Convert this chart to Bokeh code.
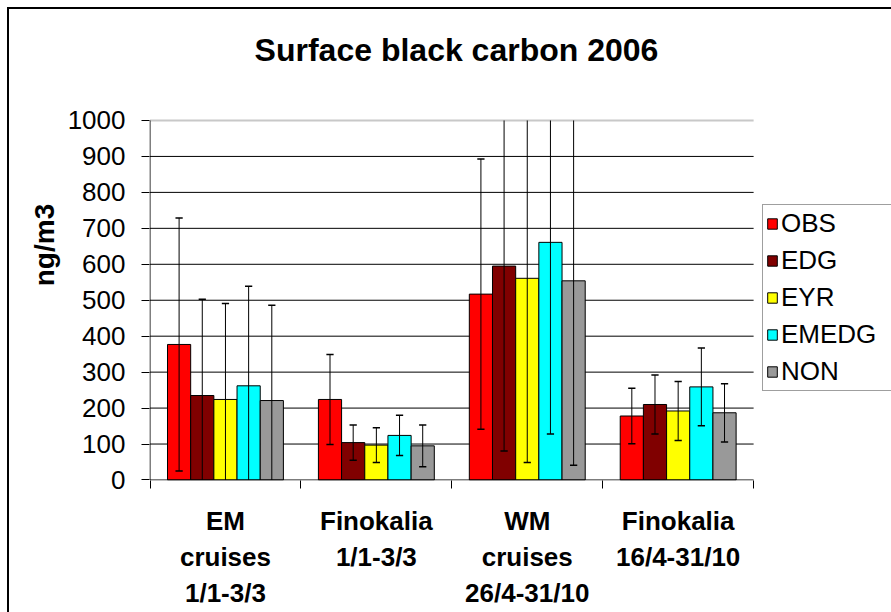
from bokeh.plotting import figure
from bokeh.models import (Range1d, FixedTicker, Legend, LegendItem, Label,
                          ColumnDataSource)
from bokeh.embed import file_html
from bokeh.resources import INLINE

# ---------------- data ----------------
categories = ["EM\ncruises\n1/1-3/3", "Finokalia\n1/1-3/3",
              "WM\ncruises\n26/4-31/10", "Finokalia\n16/4-31/10"]
series = ["OBS", "EDG", "EYR", "EMEDG", "NON"]
colors = ["#FF0000", "#800000", "#FFFF00", "#00FFFF", "#999999"]

OBS = [377, 224, 517, 178]
EDG = [235, 104, 595, 210]
EYR = [224, 97, 561, 192]
EMEDG = [262, 124, 661, 259]
NON = [221, 95, 554, 187]

OBS_err = [352, 125, 376, 77]
EDG_err = [268, 49, 514, 82]
EYR_err = [267, 48, 512, 82]
EMEDG_err = [277, 56, 533, 108]
NON_err = [265, 58, 513, 81]

y_ticks = [0, 100, 200, 300, 400, 500, 600, 700, 800, 900, 1000]
title_text = "Surface black carbon 2006"
y_label = "ng/m3"

values = [OBS, EDG, EYR, EMEDG, NON]
errors = [OBS_err, EDG_err, EYR_err, EMEDG_err, NON_err]

# ---------------- layout ----------------
FONT = "Liberation Sans"
OFF = 9                                  # outer chart border offset (incl. 2px border)
BORDER = 2
W, H = 891 - OFF + BORDER, 612 - OFF + BORDER   # host box includes the border
PLOT_L, PLOT_R, PLOT_T, PLOT_B = 149, 751, 120, 478   # plot area (page px)
ncat = len(categories)
ymin, ymax = y_ticks[0], y_ticks[-1]
px_x = (PLOT_R - PLOT_L) / ncat          # px per category
px_y = (PLOT_B - PLOT_T) / ymax          # px per unit
x0 = -0.5 / px_x
y0 = -0.5 / px_y
x_end = x0 + (891 - PLOT_L) / px_x
y_end = y0 + (PLOT_B - OFF) / px_y
NAN = float("nan")

p = figure(width=W, height=H, output_backend="svg", toolbar_location=None,
           x_range=Range1d(x0, x_end), y_range=Range1d(y0, y_end),
           min_border_left=PLOT_L - OFF, min_border_right=0, min_border_top=0,
           min_border_bottom=612 - PLOT_B, background_fill_color="white",
           border_fill_color="white")
p.margin = (OFF - BORDER, 0, 0, OFF - BORDER)
p.styles = {"border-top": "2px solid #000000", "border-left": "2px solid #000000"}
p.outline_line_color = None
p.xgrid.grid_line_color = None
p.ygrid.grid_line_color = None

# gridlines limited to the plot area
grid_src = ColumnDataSource(dict(y=y_ticks[1:-1],
                                 xa=[0] * (len(y_ticks) - 2),
                                 xb=[ncat] * (len(y_ticks) - 2)))
p.segment(x0="xa", y0="y", x1="xb", y1="y", source=grid_src,
          line_color="#000000", line_width=1)
p.segment(x0=[0], y0=[ymax], x1=[ncat], y1=[ymax], line_color="#c8c8c8",
          line_width=2)

# y axis
p.yaxis.ticker = FixedTicker(ticks=y_ticks)
p.yaxis.minor_tick_line_color = None
p.yaxis.major_tick_in = 0
p.yaxis.major_tick_out = 8
p.yaxis.major_tick_line_color = "#000000"
p.yaxis.axis_line_color = None
p.yaxis.major_label_text_font = FONT
p.yaxis.major_label_text_font_size = "26px"
p.yaxis.major_label_text_color = "#000000"
p.yaxis.major_label_standoff = 16
p.yaxis.axis_label = y_label
p.yaxis.axis_label_text_font = FONT
p.yaxis.axis_label_text_font_size = "28px"
p.yaxis.axis_label_text_font_style = "bold"
p.yaxis.axis_label_text_color = "#000000"
p.yaxis.axis_label_standoff = 5

# x axis: labels at group centres, minor ticks at group boundaries
centers = [k + 0.5 for k in range(ncat)]
p.xaxis.ticker = FixedTicker(ticks=centers, minor_ticks=list(range(ncat + 1)))
p.xaxis.major_label_overrides = {c: lab for c, lab in zip(centers, categories)}
p.xaxis.major_tick_line_color = None
p.xaxis.major_tick_in = 0
p.xaxis.major_tick_out = 0
p.xaxis.minor_tick_line_color = "#000000"
p.xaxis.minor_tick_in = 0
p.xaxis.minor_tick_out = 8
p.xaxis.axis_line_color = None
p.xaxis.major_label_text_font = FONT
p.xaxis.major_label_text_font_size = "26px"
p.xaxis.major_label_text_font_style = "bold"
p.xaxis.major_label_text_color = "#000000"
p.xaxis.major_label_text_align = "center"
p.xaxis.major_label_standoff = 17

# bars with error bars (clipped to the value axis range)
n = len(series)
bw = 0.1536
items = []
for i, (name, col, vals, errs) in enumerate(zip(series, colors, values, errors)):
    off = (i - (n - 1) / 2) * bw
    xs = [k + 0.5 + off for k in range(ncat)]
    up = [v + e for v, e in zip(vals, errs)]
    dn = [v - e for v, e in zip(vals, errs)]
    src = ColumnDataSource(dict(
        x=xs, top=vals,
        lo=[max(d, ymin) for d in dn], hi=[min(u, ymax) for u in up],
        cap_hi=[u if u <= ymax else NAN for u in up],
        cap_lo=[d if d >= ymin else NAN for d in dn],
        xl=[x - 0.024 for x in xs], xr=[x + 0.024 for x in xs]))
    r = p.vbar(x="x", top="top", bottom=0, width=bw, source=src,
               fill_color=col, line_color="#000000", line_width=1)
    items.append(LegendItem(label=name, renderers=[r]))
    p.segment(x0="x", y0="lo", x1="x", y1="hi", source=src,
              line_color="#000000", line_width=1)
    p.segment(x0="xl", y0="cap_hi", x1="xr", y1="cap_hi", source=src,
              line_color="#000000", line_width=1.5)
    p.segment(x0="xl", y0="cap_lo", x1="xr", y1="cap_lo", source=src,
              line_color="#000000", line_width=1.5)

# axis lines, limited to the plot area
p.segment(x0=[0], y0=[ymin], x1=[0], y1=[ymax], line_color="#000000", line_width=1)
p.segment(x0=[0], y0=[ymin], x1=[ncat], y1=[ymin], line_color="#000000", line_width=1)

legend = Legend(items=items, location=(762 - PLOT_L, PLOT_B - 389),
                orientation="vertical",
                label_text_font=FONT, label_text_font_size="26px",
                label_text_color="#000000", glyph_width=12, glyph_height=13,
                label_standoff=3, label_width=115, spacing=6, padding=3,
                margin=0, border_line_color="#404040", border_line_width=1,
                background_fill_color="white", background_fill_alpha=1)
p.add_layout(legend, "center")

# title
p.add_layout(Label(x=456 - PLOT_L, y=PLOT_B - 47, x_units="screen",
                   y_units="screen", text=title_text, text_font=FONT,
                   text_font_size="32px", text_font_style="bold",
                   text_align="center", text_baseline="middle",
                   text_color="#000000"))

open("out.html", "w").write(file_html(p, INLINE))
